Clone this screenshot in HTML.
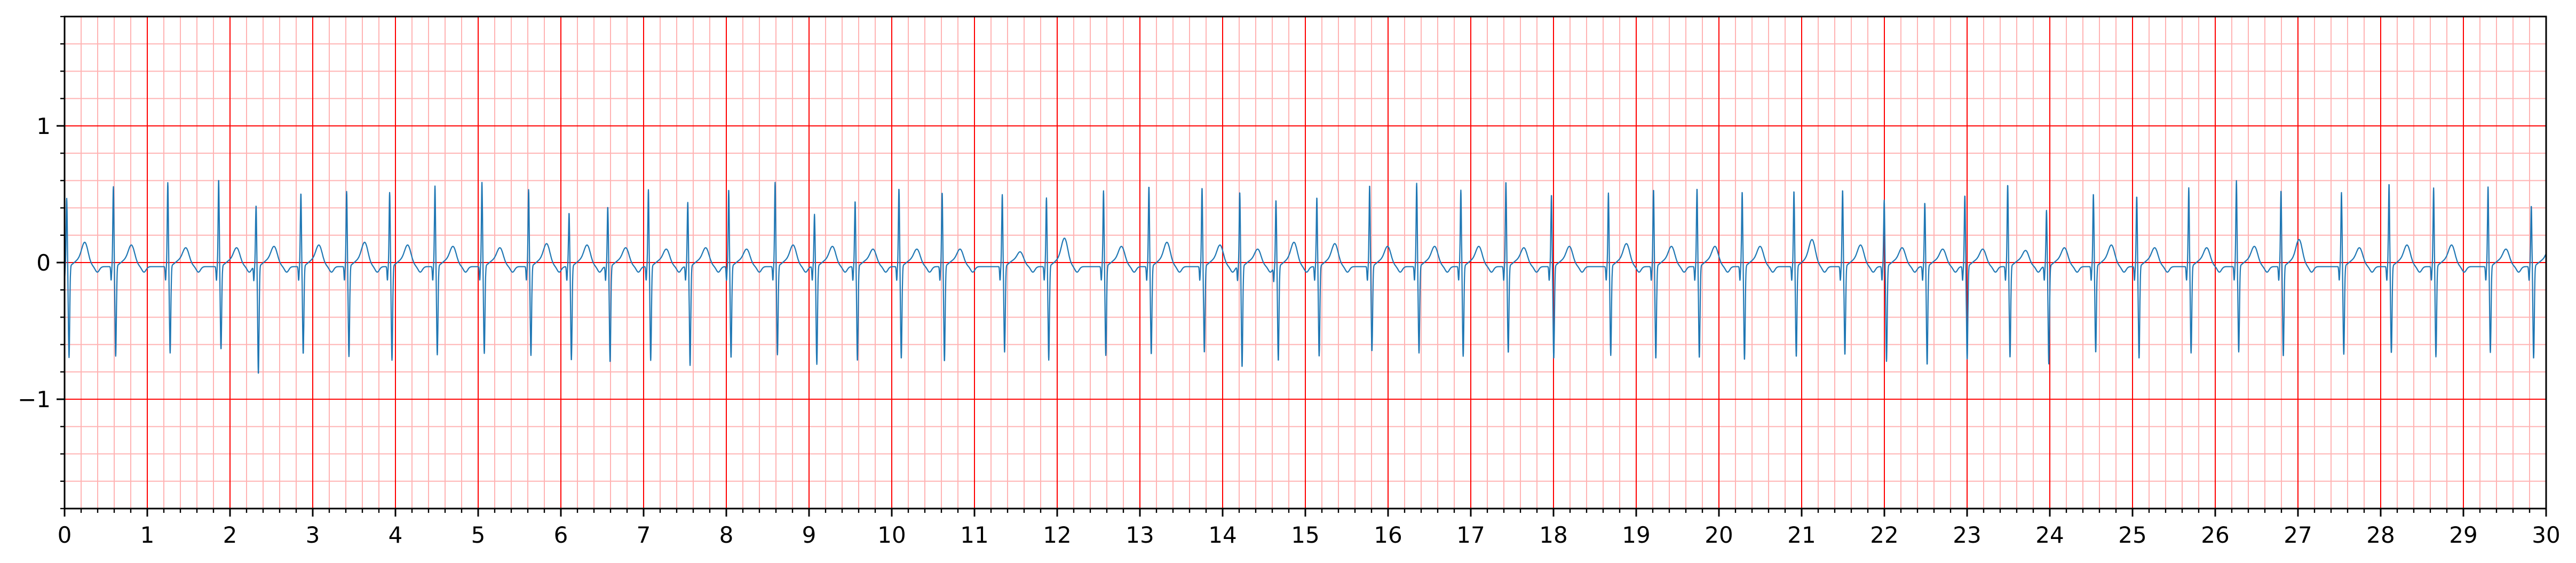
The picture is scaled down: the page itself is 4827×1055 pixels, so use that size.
<!DOCTYPE html>
<html><head><meta charset="utf-8"><style>
html,body{margin:0;padding:0;background:#fff}
svg{display:block}
text{font-family:"DejaVu Sans","Liberation Sans",sans-serif;font-size:42px;fill:#000}
</style></head><body>
<svg id="chart" width="4827" height="1055" xmlns="http://www.w3.org/2000/svg">
<g id="grid"></g>
<g id="trace"></g>
<g id="axes"></g>
</svg>
<script>
// R-peak times (s), R amplitudes, S amplitudes, T amplitudes
const beatTimes = [0.026,0.59,1.248,1.863,2.315,2.857,3.41,3.93,4.478,5.046,5.61,
6.099,6.567,7.058,7.534,8.029,8.59,9.066,9.557,10.087,10.609,11.336,11.87,
12.56,13.109,13.751,14.207,14.645,15.139,15.777,16.346,16.88,17.425,17.975,
18.664,19.209,19.735,20.281,20.907,21.495,21.998,22.489,22.973,23.491,23.96,
24.527,25.051,25.68,26.256,26.795,27.526,28.101,28.64,29.298,29.821];
const rAmps = [0.47,0.555,0.585,0.607,0.418,0.507,0.52,0.513,0.56,0.586,0.534,
0.363,0.408,0.533,0.44,0.534,0.587,0.353,0.449,0.542,0.513,0.497,0.473,
0.525,0.557,0.548,0.516,0.458,0.477,0.565,0.58,0.53,0.591,0.496,
0.509,0.534,0.542,0.518,0.523,0.531,0.457,0.438,0.492,0.57,0.382,
0.503,0.484,0.547,0.599,0.527,0.512,0.577,0.546,0.553,0.415];
const sAmps = [-0.70,-0.69,-0.667,-0.64,-0.82,-0.673,-0.693,-0.72,-0.68,-0.67,-0.685,
-0.721,-0.734,-0.721,-0.758,-0.702,-0.68,-0.75,-0.724,-0.708,-0.728,-0.66,-0.719,
-0.685,-0.676,-0.663,-0.77,-0.724,-0.693,-0.654,-0.667,-0.691,-0.665,-0.708,
-0.685,-0.708,-0.702,-0.717,-0.695,-0.68,-0.728,-0.753,-0.715,-0.70,-0.747,
-0.663,-0.708,-0.667,-0.659,-0.691,-0.676,-0.667,-0.695,-0.663,-0.708];
const tAmps = [0.17,0.15,0.13,0.13,0.14,0.15,0.17,0.15,0.14,0.13,0.16,
0.15,0.13,0.12,0.13,0.12,0.15,0.14,0.12,0.12,0.12,0.10,0.20,
0.14,0.17,0.15,0.12,0.17,0.16,0.14,0.14,0.14,0.13,0.14,
0.16,0.14,0.14,0.14,0.19,0.15,0.13,0.12,0.12,0.11,0.13,
0.15,0.13,0.13,0.14,0.19,0.13,0.15,0.15,0.12,0.12];
const xTickLabels = ["0","1","2","3","4","5","6","7","8","9","10","11","12","13","14","15","16","17","18","19","20","21","22","23","24","25","26","27","28","29","30"];
const yTickValues = [-1,0,1];
const yTickLabels = ["\u22121","0","1"];

const X0=121, X1=4771, Y0=31, Y1=953;
const xMin=0,xMax=30,yMin=-1.8,yMax=1.8;
const xs = t => X0 + (t-xMin)/(xMax-xMin)*(X1-X0);
const ys = v => Y1 - (v-yMin)/(yMax-yMin)*(Y1-Y0);
const NS="http://www.w3.org/2000/svg";
function mk(tag, attrs, parent){const e=document.createElementNS(NS,tag);for(const k in attrs)e.setAttribute(k,attrs[k]);parent.appendChild(e);return e;}
const grid=document.getElementById('grid'), trace=document.getElementById('trace'), axes=document.getElementById('axes');

// minor grid
for(let i=0;i<=150;i++){const t=i*0.2; if(i%5===0)continue;
 const l=mk('line',{x1:xs(t),x2:xs(t),y1:Y0,y2:Y1,stroke:'#ffb3b3','stroke-width':2},grid);
 
 }
for(let i=-9;i<=9;i++){const v=i*0.2; if(i%5===0)continue;
 const l=mk('line',{x1:X0,x2:X1,y1:ys(v),y2:ys(v),stroke:'#ffb3b3','stroke-width':2},grid);
 
 }
// major grid
for(let i=0;i<=30;i++){
 const l=mk('line',{x1:xs(i),x2:xs(i),y1:Y0,y2:Y1,stroke:'#ff0000','stroke-width':2},grid);
 
 }
for(const v of yTickValues){
 const l=mk('line',{x1:X0,x2:X1,y1:ys(v),y2:ys(v),stroke:'#ff0000','stroke-width':2},grid);
 
 }

// signal
function g(t,c,w){const d=(t-c)/w;return Math.exp(-0.5*d*d);}
function sig(t){
 let v=-0.03;
 for(let i=0;i<beatTimes.length;i++){
  const d=t-beatTimes[i]; if(d<-0.5||d>0.6)continue;
  const r=rAmps[i], s=sAmps[i], ta=tAmps[i];
  v+= -0.10*g(d,-0.027,0.005);
  v+= (r+0.03)*g(d,0,0.0065);
  v+= (s+0.03)*g(d,0.028,0.008);
  v+= 0.04*g(d,0.13,0.05);
  v+= ta*g(d,0.22,0.04);
  v+= -0.04*g(d,0.37,0.025);
 }
 return v;
}
let pts=[];
for(let t=0;t<=30.0001;t+=0.002){pts.push(xs(t).toFixed(1)+','+ys(sig(t)).toFixed(1));}
const pl=mk('polyline',{points:pts.join(' '),fill:'none',stroke:'#1f77b4','stroke-width':2.2,'stroke-linejoin':'round'},trace);



// spines
const fr=mk('rect',{x:X0,y:Y0,width:X1-X0,height:Y1-Y0,fill:'none',stroke:'#000','stroke-width':3},axes);


// x ticks
for(let i=0;i<=150;i++){const t=i*0.2; const major=i%5===0;
 const tk=mk('line',{x1:xs(t),x2:xs(t),y1:Y1,y2:Y1+(major?15:8),stroke:'#000','stroke-width':major?3:2.4},axes);
 
 
 if(major){const tx=mk('text',{x:xs(t),y:1017,'text-anchor':'middle'},axes);tx.textContent=xTickLabels[i/5];
  
  }
}
// y ticks
for(let i=-9;i<=9;i++){const v=i*0.2; const major=i%5===0;
 const tk=mk('line',{x1:X0-(major?15:8),x2:X0,y1:ys(v),y2:ys(v),stroke:'#000','stroke-width':major?3:2.4},axes);
 
 }
yTickValues.forEach((v,i)=>{const tx=mk('text',{x:X0-26,y:ys(v)+15,'text-anchor':'end'},axes);tx.textContent=yTickLabels[i];
 
 });
</script>
</body></html>
